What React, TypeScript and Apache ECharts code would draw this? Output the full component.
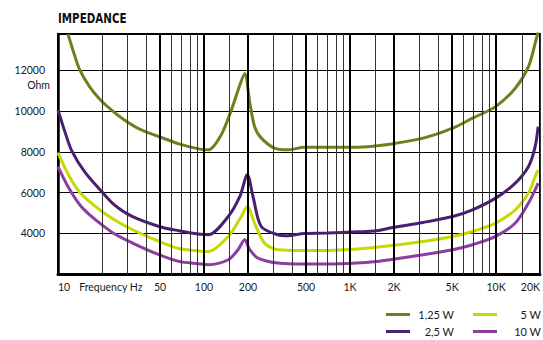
import React, { useEffect, useRef } from 'react';
import * as echarts from 'echarts';

// Tick labels / grid frequencies (Hz)
const xTickLabels = [10, 50, 100, 200, 500, 1000, 2000, 5000, 10000, 20000];
const majorGrid = [50, 100, 200, 500, 1000, 2000, 5000, 10000];
const minorGrid = [20, 30, 40, 60, 70, 80, 90, 150, 300, 400, 600, 700, 800, 900, 1500, 3000, 4000, 6000, 7000, 8000, 9000, 15000, 20000];
const yTickLabels = [4000, 6000, 8000, 10000, 12000];

const seriesNames = ['1,25 W', '2,5 W', '5 W', '10 W'];
const seriesColors = ['#6f7f1c', '#4a1f72', '#c6d900', '#8b3ea0'];

// 1,25 W
const w125Freq = [11.7, 12.84, 14.1, 16.48, 19.26, 23.6, 28.5, 35.9, 49.2, 67.2, 91.8, 107, 131, 154, 176, 190, 206, 222, 246, 304, 374, 485, 698, 1115, 1876, 3162, 5047, 6900, 9930, 13550, 16680, 18530, 19500];
const w125Ohm = [13780, 12848, 12015, 11182, 10593, 10005, 9560, 9123, 8745, 8387, 8142, 8093, 8828, 10054, 11279, 11843, 10397, 9235, 8682, 8177, 8093, 8216, 8225, 8225, 8373, 8667, 9157, 9647, 10216, 11118, 12177, 13323, 13950];

// 2,5 W
const w25Freq = [10, 11.155, 12.4, 15.24, 20.2, 24.3, 32.2, 49.2, 67.2, 91.8, 107, 146.6, 176, 198, 216.5, 246.5, 320, 374, 485, 698, 1115, 1524, 1876, 3162, 5047, 6900, 9930, 13550, 16680, 18530, 19410];
const w25Ohm = [10054, 8976, 8059, 7015, 6000, 5397, 4824, 4333, 4123, 3960, 3930, 4824, 5804, 6868, 5804, 4333, 3926, 3880, 3990, 4010, 4070, 4122, 4255, 4529, 4824, 5152, 5725, 6461, 7275, 8255, 9235];

// 5 W
const w5Freq = [10, 11.7, 14.1, 19.3, 24.3, 32.4, 49.2, 67.2, 91.8, 107, 146.6, 180, 198, 222, 259, 320, 485, 698, 1115, 1876, 3162, 5047, 6900, 9930, 13550, 16680, 18530, 19410];
const w5Ohm = [7960, 6917, 6000, 5152, 4662, 4172, 3598, 3250, 3130, 3100, 3843, 4824, 5314, 4500, 3520, 3191, 3157, 3157, 3225, 3387, 3598, 3843, 4088, 4500, 5152, 5971, 6784, 7113];

// 10 W
const w10Freq = [10, 11.7, 14.1, 16.48, 19.3, 24.3, 32.4, 49.2, 67.2, 91.8, 107, 146.6, 171, 190, 205.7, 234, 320, 485, 698, 1115, 1524, 1876, 3162, 5047, 6900, 9930, 13550, 16680, 18530, 19410];
const w10Ohm = [7275, 6300, 5400, 4900, 4500, 3975, 3520, 2946, 2618, 2505, 2456, 2701, 3191, 3681, 3191, 2784, 2539, 2490, 2490, 2539, 2618, 2701, 2946, 3191, 3436, 3843, 4500, 5480, 6132, 6461];

const curveFreqs = [w125Freq, w25Freq, w5Freq, w10Freq];
const curveOhms = [w125Ohm, w25Ohm, w5Ohm, w10Ohm];

const FONT = 'Lato, "Open Sans", sans-serif';
const TEXT = '#1a1a1a';

function fmtFreq(v: number): string {
  const r = Math.round(v);
  return r >= 1000 ? `${Math.round(r / 1000)}K` : String(r);
}

export default function App() {
  const ref = useRef<HTMLDivElement>(null);
  useEffect(() => {
    if (!ref.current) return;
    const chart = echarts.init(ref.current, undefined, { renderer: 'svg' });

    const curves = seriesNames.map((name, i) => ({
      name,
      type: 'line',
      data: curveFreqs[i].map((f, j) => [f, curveOhms[i][j]]),
      showSymbol: false,
      smooth: 0.3,
      clip: true,
      z: 3,
      lineStyle: { width: 3, color: seriesColors[i] },
      itemStyle: { color: seriesColors[i] },
    }));

    const gridSeries = {
      name: 'grid',
      type: 'line',
      data: [],
      z: 1,
      silent: true,
      markLine: {
        silent: true,
        symbol: ['none', 'none'],
        label: { show: false },
        animation: false,
        data: [
          ...minorGrid.map((v) => ({ xAxis: v, lineStyle: { width: 1, color: '#333', type: 'solid' } })),
          ...majorGrid.map((v) => ({ xAxis: v, lineStyle: { width: 2, color: '#000', type: 'solid' } })),
        ],
      },
    };

    const legendCommon = {
      left: 386,
      width: 200,
      padding: 0,
      orient: 'horizontal',
      icon: 'rect',
      itemWidth: 24,
      itemHeight: 3,
      itemGap: 19,
      selectedMode: false,
      formatter: (name: string) => `{r|${name}}`,
      textStyle: {
        rich: { r: { width: 39, align: 'right', fontSize: 11, fontFamily: FONT, color: TEXT } },
      },
    };

    chart.setOption({
      animation: false,
      backgroundColor: '#fff',
      grid: {
        left: 58,
        top: 34,
        width: 487,
        height: 240,
        show: true,
        borderColor: '#000',
        borderWidth: 2,
        backgroundColor: 'transparent',
      },
      legend: [
        { ...legendCommon, top: 309, data: [seriesNames[0], seriesNames[2]] },
        { ...legendCommon, top: 326, data: [seriesNames[1], seriesNames[3]] },
      ],
      xAxis: {
        type: 'log',
        logBase: 10,
        min: 10,
        max: 20000,
        axisLine: { show: true, lineStyle: { color: '#000', width: 3 } },
        axisTick: { show: false },
        splitLine: { show: false },
        minorTick: { show: false },
        axisLabel: {
          customValues: xTickLabels,
          alignMinLabel: 'left',
          alignMaxLabel: 'right',
          showMinLabel: true,
          showMaxLabel: true,
          margin: 7,
          fontSize: 10.5,
          fontFamily: FONT,
          color: TEXT,
          formatter: (v: number) => {
            const s = fmtFreq(v);
            return s === '10' ? `{a|10}{b|Frequency Hz}` : s;
          },
          rich: {
            a: { fontSize: 10.5, fontFamily: FONT, color: TEXT },
            b: { fontSize: 10.5, fontFamily: FONT, color: TEXT, padding: [0, 0, 0, 9] },
          },
        },
      },
      yAxis: {
        type: 'value',
        min: 2000,
        max: 13780,
        interval: 2000,
        axisLine: { show: true, lineStyle: { color: '#000', width: 2.5 } },
        axisTick: { show: false },
        splitLine: { show: true, lineStyle: { color: '#000', width: 1 } },
        axisLabel: {
          margin: 13,
          fontSize: 10.5,
          fontFamily: FONT,
          color: TEXT,
          showMaxLabel: false,
          formatter: (v: number) => (yTickLabels.includes(Math.round(v)) ? String(Math.round(v)) : ''),
        },
      },
      graphic: [
        {
          type: 'text',
          x: 58,
          y: 18,
          scaleX: 0.82,
          style: {
            text: 'IMPEDANCE',
            align: 'left',
            verticalAlign: 'middle',
            fontSize: 14,
            fontWeight: 'bold',
            fontFamily: '"DejaVu Sans Condensed", "DejaVu Sans", sans-serif',
            fill: '#111',
          },
        },
        {
          type: 'text',
          x: 50,
          y: 85,
          style: {
            text: 'Ohm',
            align: 'right',
            verticalAlign: 'middle',
            fontSize: 10.5,
            fontFamily: FONT,
            fill: TEXT,
          },
        },
      ],
      series: [gridSeries, ...curves],
    });

    return () => chart.dispose();
  }, []);

  return (
    <div
      ref={ref}
      style={{ position: 'absolute', left: 0, top: 0, width: 543, height: 340 }}
    />
  );
}
